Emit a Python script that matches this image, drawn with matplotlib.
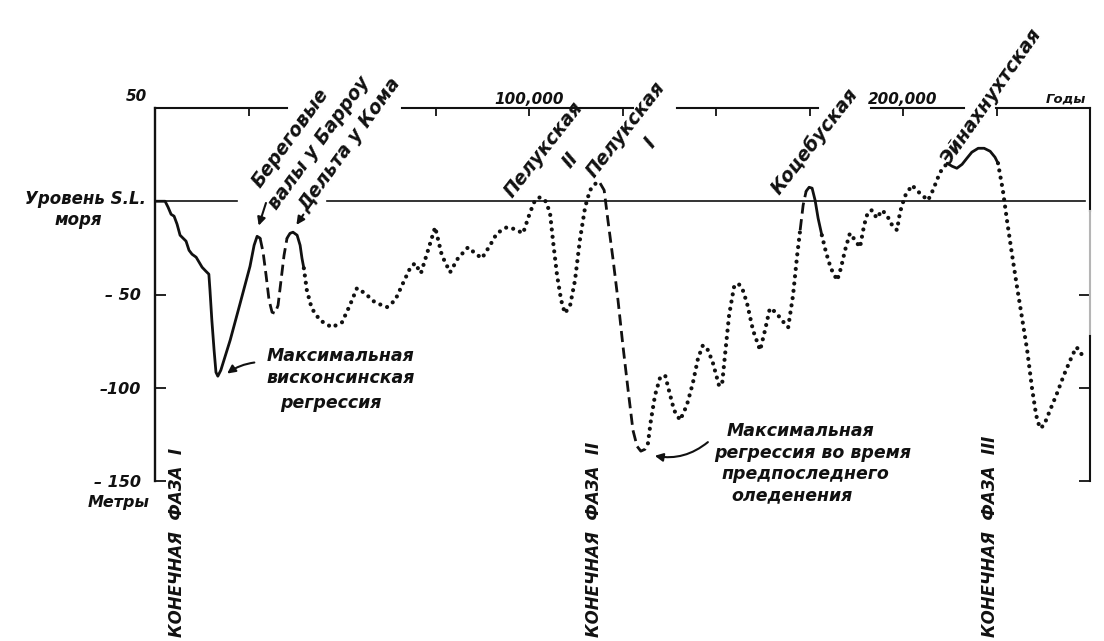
import numpy as np
import matplotlib.pyplot as plt

# sea level curve: thousands of years ago vs metres
# every piece of the curve keeps its own line style (solid / dashed / dotted)
wisc_yr = [0, 2.7, 3.5, 4.3, 5.1, 5.9, 6.7, 7.5, 8.3, 9.1, 9.9, 11.0, 11.8,
           12.6, 13.6, 14.4, 14.7, 15.2, 15.8, 16.3, 16.8, 17.6, 20.1, 22.7,
           25.4, 26.5, 27.3, 28.1]
wisc_m = [0, 0, -3.2, -7.0, -8.0, -12.3, -18.2, -19.8, -21.4, -26.3, -28.4,
          -30.0, -32.7, -35.4, -37.5, -39.1, -47.7, -63.8, -79.9, -91.7, -93.8,
          -90.6, -74.5, -55.2, -34.9, -23.6, -18.8, -19.8]

barrow_yr = [28.1, 28.9, 29.7, 30.5, 31.3, 32.1, 32.9, 33.7, 34.5, 35.3]
barrow_m = [-19.8, -27.3, -39.7, -53.1, -59.5, -60.1, -55.8, -42.4, -29.0, -19.8]

nome_yr = [35.3, 36.1, 36.9, 38.0, 38.8, 39.3, 39.8]
nome_m = [-19.8, -17.2, -16.6, -18.2, -23.6, -30.6, -35.9]

pelukian_yr = [39.8, 40.6, 41.9, 44.1, 47.3, 50.0, 52.1, 54.0, 56.1, 58.8,
               62.0, 64.2, 66.3, 68.2, 69.5, 71.1, 73.0, 74.9, 76.7, 78.9,
               81.0, 83.7, 85.6, 87.4, 89.6, 91.4, 94.1, 96.3, 98.4, 100.3,
               101.6, 102.9, 104.3, 105.6, 106.4, 107.5, 108.6, 109.6, 111.0,
               112.3, 113.6, 115.0, 116.3, 117.9, 119.0]
pelukian_m = [-35.9, -47.7, -57.4, -63.8, -67.6, -64.9, -55.8, -46.6, -49.3,
              -54.2, -56.8, -53.1, -44.0, -35.9, -33.2, -38.6, -26.3, -13.9,
              -29.0, -38.1, -30.6, -24.7, -27.9, -30.6, -23.6, -17.2, -13.9,
              -15.0, -17.2, -5.9, 0.5, 2.1, 0.5, -5.9, -20.9, -39.7, -53.1,
              -60.1, -55.8, -42.4, -20.9, -3.2, 5.9, 9.7, 9.7]

penult_yr = [119.0, 120.1, 121.1, 122.5, 123.8, 125.1, 126.5, 127.8, 128.9,
             129.9, 131.0, 131.8]
penult_m = [9.7, 5.9, -10.2, -31.6, -53.1, -77.2, -101.3, -122.8, -131.4,
            -134.0, -133.0, -129.8]

rise_yr = [131.8, 132.6, 133.7, 135.0, 136.4, 137.4, 138.8, 140.4, 142.2,
           143.8, 145.2, 146.5, 147.9, 149.2, 150.8, 151.6, 152.4, 153.5,
           154.8, 155.9, 157.0, 158.3, 159.9, 161.8, 163.1, 164.4, 166.0,
           167.6, 169.3, 170.6, 171.7, 172.5]
rise_m = [-129.8, -117.4, -104.0, -94.9, -93.3, -101.3, -112.1, -117.4,
          -109.4, -97.6, -84.2, -77.2, -79.9, -86.9, -98.7, -98.7, -82.6,
          -61.1, -46.1, -44.0, -46.6, -54.7, -69.2, -79.9, -69.2, -57.4,
          -59.5, -63.8, -67.6, -50.4, -29.0, -15.5]

kotz_up_yr = [172.5, 173.3, 174.1]
kotz_up_m = [-15.5, -2.1, 5.4]

kotz_yr = [174.1, 174.9, 175.7, 176.5, 177.3, 178.3]
kotz_m = [5.4, 7.5, 7.0, 0.5, -9.1, -18.2]

mid_yr = [178.3, 179.4, 180.7, 182.4, 183.4, 184.5, 185.8, 187.2, 188.5,
          189.6, 190.6, 191.7, 193.0, 194.4, 195.7, 197.1, 198.4, 199.2,
          200.5, 202.4, 204.5, 206.7, 208.0, 209.9, 211.8]
mid_m = [-18.2, -27.3, -35.9, -42.4, -35.9, -26.3, -17.2, -20.9, -24.7,
         -12.9, -5.9, -4.8, -9.1, -4.8, -7.5, -12.9, -15.5, -5.9, 2.7, 8.6,
         4.3, 0.5, 5.9, 15.5, 20.4]

einah_yr = [211.8, 213.1, 214.4, 215.8, 217.1, 218.4, 220.1, 221.7, 223.3,
            224.6, 225.4]
einah_m = [20.4, 18.8, 17.7, 19.8, 23.1, 26.3, 28.4, 28.4, 26.8, 23.6, 20.4]

end_yr = [225.4, 226.7, 227.8, 229.1, 230.5, 231.8, 233.2, 234.5, 235.6,
          236.6, 237.7, 239.3, 241.2, 243.0, 244.7, 246.3, 247.3, 248.4]
end_m = [20.4, 5.9, -10.2, -27.9, -46.1, -62.2, -79.9, -100.3, -114.7,
         -121.7, -120.1, -112.1, -102.9, -93.3, -85.3, -78.3, -79.9, -85.3]

year_ticks = [25, 75, 100, 125, 150, 175, 200, 225]
metre_ticks = [-50, -100, -150]
metre_labels = ['– 50', '–100', '– 150']

ink = '#111111'
hand = dict(family='DejaVu Sans', style='italic', weight='bold', color=ink)

fig = plt.figure(figsize=(11.04, 6.41), dpi=100)
ax = fig.add_axes([155/1104, 160/641, 935/1104, 373/641])
ax.set_xlim(0, 250)
ax.set_ylim(-150, 50)
for s in ax.spines.values():
    s.set_visible(False)

# frame: left side, broken top line, right side
ax.plot([0, 0], [-150, 50], color=ink, lw=1.7, clip_on=False)
for a, b in [(0, 35.3), (66, 127.8), (139.6, 177.3), (191.4, 216.3), (224.9, 250)]:
    ax.plot([a, b], [50, 50], color=ink, lw=1.5, clip_on=False)
ax.plot([250, 250], [50, -5], color=ink, lw=1.5, clip_on=False)
ax.plot([250, 250], [-5, -72], color='#b5b5b5', lw=1.5, clip_on=False)
ax.plot([250, 250], [-72, -150], color=ink, lw=1.5, clip_on=False)

# sea level line
ax.plot([0, 21.9], [0, 0], color=ink, lw=1.2)
ax.plot([46, 248.7], [0, 0], color=ink, lw=1.2)

ax.set_xticks(year_ticks)
ax.set_xticklabels([])
ax.xaxis.set_ticks_position('top')
ax.set_yticks(metre_ticks)
ax.set_yticklabels(metre_labels, fontdict=dict(hand, size=11.5))
ax.tick_params(axis='x', direction='in', length=6, width=1.3, color=ink)
ax.tick_params(axis='y', direction='in', length=8, width=1.3, color=ink,
               right=True, pad=10)

# the curve
ax.plot(wisc_yr, wisc_m, color=ink, lw=2.0, solid_capstyle='round')
ax.plot(barrow_yr, barrow_m, color=ink, lw=2.0, ls=(0, (4, 2)))
ax.plot(nome_yr, nome_m, color=ink, lw=2.0, solid_capstyle='round')
dots = dict(color=ink, lw=3.0, ls=(0, (0.01, 1.75)), dash_capstyle='round')
ax.plot(pelukian_yr, pelukian_m, **dots)
ax.plot(penult_yr, penult_m, color=ink, lw=2.0, ls=(0, (4, 2)))
ax.plot(rise_yr, rise_m, **dots)
ax.plot(kotz_up_yr, kotz_up_m, color=ink, lw=2.0, ls=(0, (4, 2)))
ax.plot(kotz_yr, kotz_m, color=ink, lw=2.0, solid_capstyle='round')
ax.plot(mid_yr, mid_m, **dots)
ax.plot(einah_yr, einah_m, color=ink, lw=2.0, solid_capstyle='round')
ax.plot(end_yr, end_m, **dots)

# axis texts
ax.text(-2, 52, '50', ha='right', va='bottom', size=11, **hand)
ax.text(100, 50.8, '100,000', ha='center', va='bottom', size=11, **hand)
ax.text(200, 50.8, '200,000', ha='center', va='bottom', size=11, **hand)
ax.text(249, 51.5, 'Годы', ha='right', va='bottom', size=9.5, **hand)
ax.text(-2.5, 1, 'Уровень S.L.', ha='right', va='center', size=12, **hand)
ax.text(-20.6, -10, 'моря', ha='center', va='center', size=12, **hand)
ax.text(-1.5, -161.5, 'Метры', ha='right', va='center', size=11.5, **hand)

# rotated stage names
stage = dict(rotation_mode='anchor', ha='left', va='baseline', size=13.5, **hand)
ax.text(28.3, 7.0, 'Береговые', rotation=54, **stage)
ax.text(32.6, -4.8, 'валы у Барроу', rotation=54, **stage)
ax.text(40.6, -5.9, 'Дельта у Кома', rotation=54, **stage)
ax.text(95.5, 1.6, 'Пелукская', rotation=52, **stage)
ax.text(111.0, 22.0, 'II', rotation=52, ha='center', va='center', size=13.5, **hand)
ax.text(117.6, 12.3, 'Пелукская', rotation=52, **stage)
ax.text(132.4, 31.1, 'I', rotation=52, ha='center', va='center', size=13.5, **hand)
ax.text(167.1, 3.2, 'Коцебуская', rotation=52, **stage)
ax.text(212.6, 19.3, 'Эйнахнухтская', rotation=55, **stage)

arrow = dict(arrowstyle='-|>', color=ink, lw=1.5, mutation_scale=12)
ax.annotate('', xy=(27.5, -14.5), xytext=(29.9, 0.5), arrowprops=arrow)
ax.annotate('', xy=(37.4, -13.9), xytext=(40.1, -5.9), arrowprops=arrow)

# end phases
phase = dict(rotation=90, rotation_mode='anchor', ha='left', va='center',
             size=12, clip_on=False, **hand)
ax.text(5.9, -233.8, 'КОНЕЧНАЯ  ФАЗА  I', **phase)
ax.text(117.4, -233.8, 'КОНЕЧНАЯ  ФАЗА  II', **phase)
ax.text(223.3, -233.8, 'КОНЕЧНАЯ  ФАЗА  III', **phase)

# notes on the two big lows
note = dict(ha='left', va='center', size=12.5, **hand)
ax.text(29.9, -83.1, 'Максимальная', **note)
ax.text(29.7, -94.9, 'висконсинская', **note)
ax.text(33.4, -108.3, 'регрессия', **note)
ax.annotate('', xy=(18.7, -93.3), xytext=(27.3, -86.3),
            arrowprops=dict(arrow, connectionstyle='arc3,rad=0.15'))

ax.text(152.9, -123.3, 'Максимальная', **note)
ax.text(149.5, -135.1, 'регрессия во время', **note)
ax.text(151.6, -146.4, 'предпоследнего', **note)
ax.text(154.0, -157.6, 'оледенения', **note)
ax.annotate('', xy=(132.9, -136.2), xytext=(148.4, -128.2),
            arrowprops=dict(arrow, connectionstyle='arc3,rad=-0.25'))

fig.savefig('out.png', dpi=100)
